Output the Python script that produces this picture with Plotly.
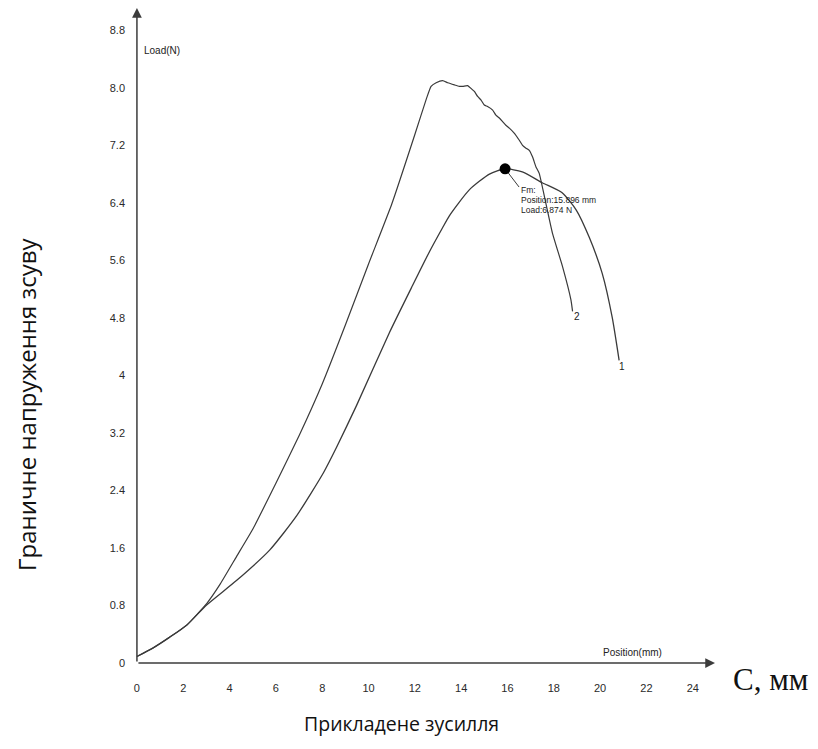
import plotly.graph_objects as go

# ---- data ----
curve1_x = [0.0, 0.7, 1.42, 2.16, 3.02, 4.31, 5.73, 6.90, 8.06, 8.62, 9.48, 10.91, 11.90, 12.63, 13.19,
            13.49, 14.35, 15.22, 15.896, 16.64, 17.50, 18.36, 18.97, 19.53, 20.09, 20.52, 20.82]
curve1_y = [0.09, 0.21, 0.36, 0.53, 0.81, 1.15, 1.57, 2.05, 2.65, 3.00, 3.58, 4.60, 5.25, 5.72, 6.05,
            6.22, 6.58, 6.80, 6.874, 6.83, 6.68, 6.54, 6.30, 5.92, 5.42, 4.81, 4.21]

curve2_x = [0.0, 0.7, 1.42, 2.16, 3.02, 3.6, 4.3, 5.0, 6.0, 7.0, 8.0, 9.0, 10.0,
            11.0, 12.0, 12.5, 12.70, 12.92, 13.20, 13.42, 13.71, 13.92, 14.07, 14.28, 14.43, 14.57,
            14.71, 14.86, 15.00, 15.14, 15.36, 15.50, 15.65, 15.79, 15.93, 16.08, 16.29, 16.51, 16.65,
            16.80, 16.94, 17.08, 17.23, 17.37, 17.66, 17.94, 18.38, 18.74, 18.81]
curve2_y = [0.09, 0.21, 0.36, 0.53, 0.83, 1.10, 1.48, 1.86, 2.50, 3.16, 3.88, 4.70, 5.55,
            6.38, 7.35, 7.85, 8.02, 8.07, 8.10, 8.07, 8.04, 8.02, 8.02, 8.03, 7.99, 7.95,
            7.88, 7.83, 7.76, 7.74, 7.69, 7.62, 7.58, 7.53, 7.48, 7.44, 7.37, 7.27, 7.20,
            7.16, 7.13, 7.04, 6.90, 6.81, 6.39, 5.98, 5.51, 5.05, 4.89]

fm_x = 15.896
fm_y = 6.874
leader_x = [15.896, 16.50]
leader_y = [6.874, 6.62]

x_tickvals = [0, 2, 4, 6, 8, 10, 12, 14, 16, 18, 20, 22, 24]
x_ticktext = [str(v) for v in x_tickvals]
y_tickvals = [0, 0.8, 1.6, 2.4, 3.2, 4.0, 4.8, 5.6, 6.4, 7.2, 8.0, 8.8]
y_ticktext = ["0", "0.8", "1.6", "2.4", "3.2", "4", "4.8", "5.6", "6.4", "7.2", "8.0", "8.8"]

fm_lines = ["Fm:", "Position:15.896 mm", "Load:6.874 N"]

X_MAX = 24.96
Y_MAX = 9.11
LINE = "#3a3a3a"
TICKFONT = dict(family="Liberation Sans", size=11, color="#2a2a2a")
SMALL = dict(family="Liberation Sans", size=10, color="#222222")

# page body has an 8px margin, so all pixel targets are shifted by it
OFF = 8
W, H = 818 - OFF, 749 - 2 * OFF
L = 136 - OFF
T = 8 - OFF
plot_right = 715 - OFF
plot_bottom = 663 - OFF
R = W - plot_right
B = H - plot_bottom
pw, ph = W - L - R, H - T - B


def px_to_paper(px, py):
    return (px - OFF - L) / pw, (plot_bottom - (py - OFF)) / ph


fig = go.Figure()
fig.add_trace(go.Scatter(x=curve1_x, y=curve1_y, mode="lines",
                         line=dict(color=LINE, width=1.3, shape="spline", smoothing=0.6),
                         hoverinfo="skip"))
fig.add_trace(go.Scatter(x=curve2_x, y=curve2_y, mode="lines",
                         line=dict(color=LINE, width=1.2, shape="spline", smoothing=0.4),
                         hoverinfo="skip"))
fig.add_trace(go.Scatter(x=leader_x, y=leader_y, mode="lines",
                         line=dict(color=LINE, width=1), hoverinfo="skip"))
fig.add_trace(go.Scatter(x=[fm_x], y=[fm_y], mode="markers",
                         marker=dict(color="black", size=11), hoverinfo="skip"))

ann = []
# axis arrows
ann.append(dict(x=X_MAX, y=0, ax=0, ay=0, xref="x", yref="y", axref="x", ayref="y",
                showarrow=True, arrowhead=2, arrowsize=1.3, arrowwidth=1.5, arrowcolor="#3c3c3c",
                text=""))
ann.append(dict(x=0, y=Y_MAX, ax=0, ay=0, xref="x", yref="y", axref="x", ayref="y",
                showarrow=True, arrowhead=2, arrowsize=1.3, arrowwidth=1.5, arrowcolor="#3c3c3c",
                text=""))
# axis captions inside chart
ann.append(dict(x=0.2, y=8.52, xref="x", yref="y", text="Load(N)", showarrow=False,
                xanchor="left", yanchor="middle", font=SMALL))
ann.append(dict(x=21.4, y=0.15, xref="x", yref="y", text="Position(mm)", showarrow=False,
                xanchor="center", yanchor="middle", font=SMALL))
# curve numbers
ann.append(dict(x=20.95, y=4.12, xref="x", yref="y", text="1", showarrow=False,
                xanchor="center", yanchor="middle", font=SMALL))
ann.append(dict(x=19.0, y=4.82, xref="x", yref="y", text="2", showarrow=False,
                xanchor="center", yanchor="middle", font=SMALL))
# Fm annotation
for i, t in enumerate(fm_lines):
    ann.append(dict(x=16.50, y=6.58 - i * 0.14, xref="x", yref="y", text=t, showarrow=False,
                    xanchor="left", yanchor="middle",
                    font=dict(family="Liberation Sans", size=8.5, color="#222")))

# outer labels
xp, yp = px_to_paper(27, 405)
ann.append(dict(x=xp, y=yp, xref="paper", yref="paper", text="Граничне напруження зсуву",
                showarrow=False, textangle=-90, xanchor="center", yanchor="middle",
                font=dict(family="Open Sans", size=24, color="#111")))
xp, yp = px_to_paper(401, 739)
ann.append(dict(x=xp, y=yp, xref="paper", yref="paper", text="Прикладене зусилля",
                showarrow=False, xanchor="center", yanchor="bottom",
                font=dict(family="Open Sans", size=19.5, color="#111")))
xp, yp = px_to_paper(731, 679)
ann.append(dict(x=xp, y=yp, xref="paper", yref="paper", text="С, мм",
                showarrow=False, xanchor="left", yanchor="middle",
                font=dict(family="Liberation Serif", size=31, color="#111")))

fig.update_layout(
    annotations=ann,
    width=W, height=H,
    margin=dict(l=L, r=R, t=T, b=B, pad=0, autoexpand=False),
    paper_bgcolor="white", plot_bgcolor="white",
    showlegend=False,
    xaxis=dict(range=[-0.04, X_MAX], tickvals=x_tickvals, ticktext=x_ticktext,
               showgrid=False, zeroline=False, showline=False, ticks="",
               tickfont=TICKFONT, ticklabelstandoff=17, fixedrange=True),
    yaxis=dict(range=[0, Y_MAX], tickvals=y_tickvals, ticktext=y_ticktext,
               showgrid=False, zeroline=False, showline=False, ticks="",
               tickfont=TICKFONT, ticklabelstandoff=10, fixedrange=True),
)

fig.write_html("out.html")
